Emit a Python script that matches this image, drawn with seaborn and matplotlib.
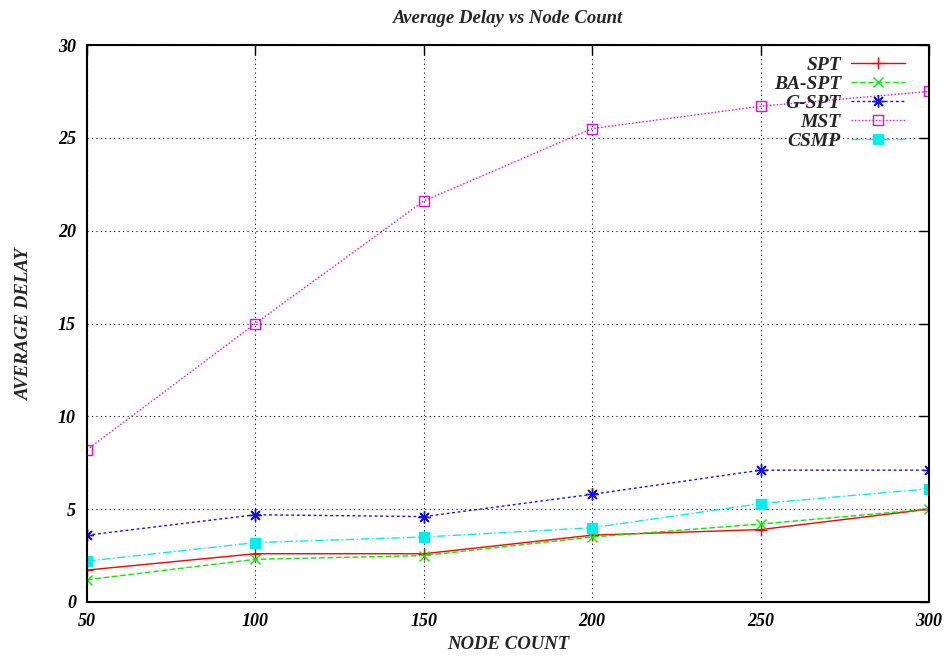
import matplotlib
matplotlib.use("Agg")
import matplotlib.pyplot as plt
import seaborn as sns
import pandas as pd

node_count = [50, 100, 150, 200, 250, 300]
spt = [1.72, 2.6, 2.6, 3.6, 3.9, 5.0]
ba_spt = [1.2, 2.3, 2.5, 3.5, 4.2, 5.0]
g_spt = [3.6, 4.7, 4.6, 5.8, 7.1, 7.1]
mst = [8.2, 15.0, 21.6, 25.5, 26.7, 27.5]
csmp = [2.2, 3.2, 3.5, 4.0, 5.3, 6.1]

series = [
    ("SPT", spt, "#ff0000", "-", "+", 9, "#ff0000"),
    ("BA-SPT", ba_spt, "#00ee00", (0, (4, 2)), "x", 7, "#00ee00"),
    ("G-SPT", g_spt, "#1010ee", (0, (2, 2)), (8, 2, 0), 9, "#1010ee"),
    ("MST", mst, "#ee00ee", (0, (1, 1.5)), "s", 7, "none"),
    ("CSMP", csmp, "#00eeee", (0, (6, 2, 1, 2)), "s", 7.5, "#00eeee"),
]

sns.set_style("white")
plt.rcParams["font.family"] = ["Liberation Serif", "DejaVu Serif"]

fig = plt.figure(figsize=(9.49, 6.64), dpi=100)
ax = fig.add_axes([87 / 949, 1 - 602 / 664, (929 - 87) / 949, (602 - 45) / 664])

for name, vals, color, ls, mk, ms, mfc in series:
    df = pd.DataFrame({"x": node_count, "y": vals})
    sns.lineplot(data=df, x="x", y="y", ax=ax, color=color, linestyle=ls,
                 marker=mk, markersize=ms, markerfacecolor=mfc,
                 markeredgecolor=color, markeredgewidth=1.0, linewidth=1.0,
                 label=name)

ax.set_xlim(50, 300)
ax.set_ylim(0, 30)
ax.set_xticks(node_count)
ax.set_yticks([0, 5, 10, 15, 20, 25, 30])
font = dict(fontsize=13, fontweight="bold", fontstyle="italic")
ax.set_xticklabels([str(v) for v in node_count], **font)
ax.set_yticklabels([str(v) for v in [0, 5, 10, 15, 20, 25, 30]], **font)
ax.tick_params(direction="in", length=7, width=1, top=True, right=True, pad=8, colors="black")
ax.grid(True, color="black", linestyle=(0, (1, 3)), linewidth=0.8)
for s in ax.spines.values():
    s.set_color("black")
    s.set_linewidth(1.5)

ax.set_xlabel("NODE COUNT", fontsize=13.5, fontweight="bold", fontstyle="italic", labelpad=4)
ax.set_ylabel("AVERAGE DELAY", fontsize=13.5, fontweight="bold", fontstyle="italic", labelpad=18)
ax.set_title("Average Delay vs Node Count", fontsize=13.5, fontweight="bold", fontstyle="italic", pad=16)

leg = ax.legend(loc="upper right", bbox_to_anchor=((905 - 87) / 842, 1 - 11 / 557),
                markerfirst=False, frameon=False, handlelength=2.8,
                prop=dict(family="Liberation Serif", size=14, weight="bold", style="italic"),
                labelspacing=0.07, borderaxespad=0, borderpad=0, handletextpad=0.5)

fig.savefig("out.png", dpi=100)
